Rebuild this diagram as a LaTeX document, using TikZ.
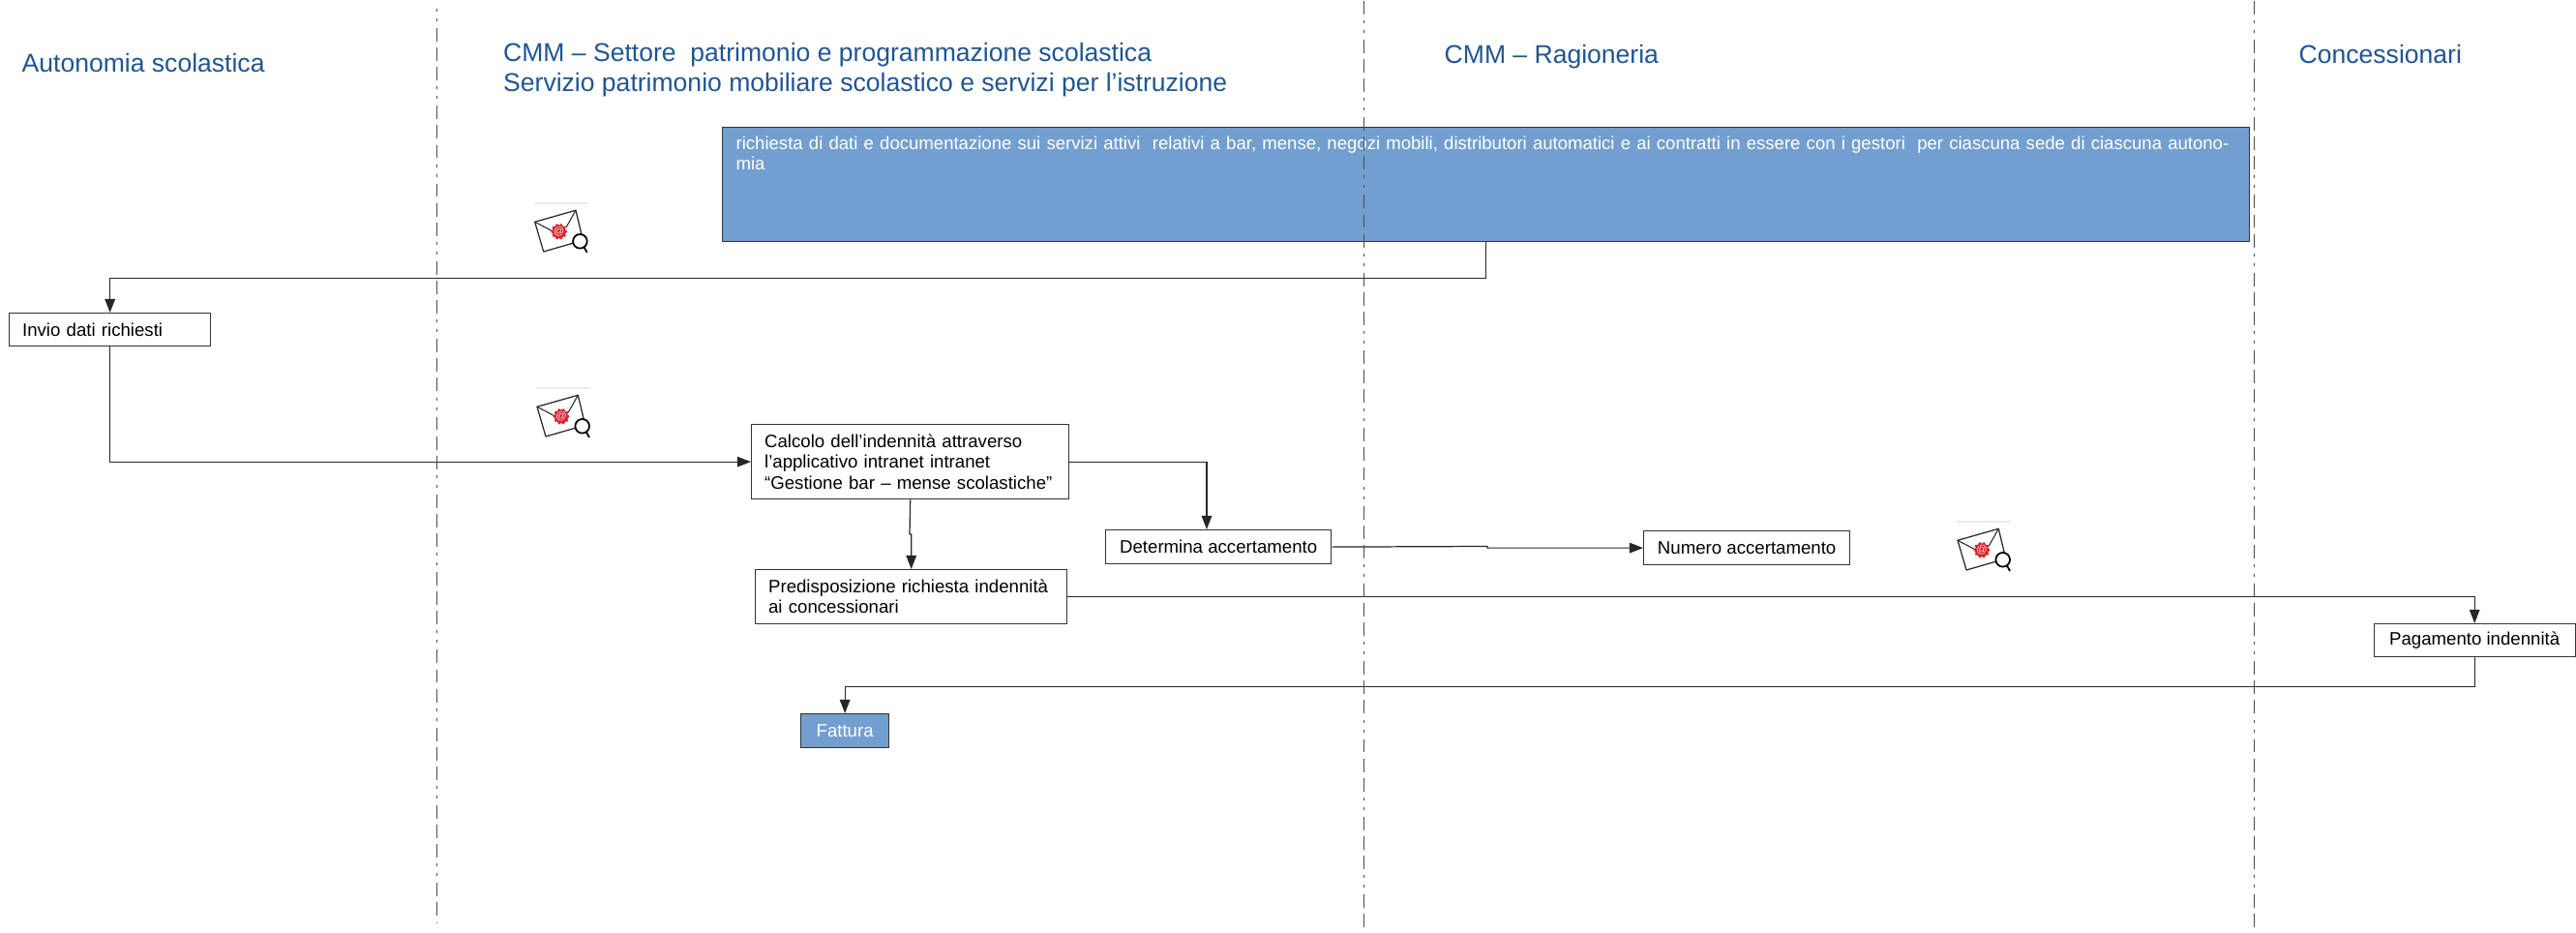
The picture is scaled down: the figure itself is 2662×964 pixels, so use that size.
\documentclass[tikz,border=0pt]{standalone}
\usepackage{fontspec}
\setmainfont{Liberation Sans}
\usetikzlibrary{arrows.meta}

\definecolor{titleblue}{HTML}{1F5592}
\definecolor{boxblue}{HTML}{729FCF}
\definecolor{sealred}{HTML}{D9232B}

\tikzset{
  lanetitle/.style={inner sep=0pt, text=titleblue, font=\fontsize{7.55}{8.6}\selectfont, align=left},
  stepbox/.style={anchor=north west, draw=black!80, line width=0.35pt, fill=white, inner sep=0pt, font=\fontsize{5.3}{6}\selectfont},
  leftbox/.style={stepbox, align=left, inner xsep=0.135cm},
  bluebox/.style={fill=boxblue, text=white},
  flow/.style={draw=black!85, line width=0.35pt, -{Triangle[length=4pt,width=3pt]}},
  laneline/.style={draw=black!70, line width=0.37pt, dash pattern=on 0.85pt off 1.99pt on 0.85pt off 1.99pt on 3.955pt off 1.764pt on 3.955pt off 1.764pt on 3.955pt off 1.764pt},
  mailicon/.pic={
    \draw[black!8, line width=0.4pt] (0,0) -- (55.7,0);
    \draw[black!85, line width=0.35pt, line join=round] (1,19.3) -- (43.3,7.3) -- (50.7,38.3) -- (10,50) -- cycle;
    \draw[black!85, line width=0.3pt] (1,19.3) -- (20,29.3) (43.3,7.3) -- (33.3,25);
    \fill[sealred, variable=\t, domain=0:360, samples=73] plot ({26+(7.6+0.8*cos(10*\t))*cos(\t)}, {29.3+(7.6+0.8*cos(10*\t))*sin(\t)}) -- cycle;
    \node[text=white!85!sealred, font=\fontsize{3.2}{3.2}\selectfont, inner sep=0pt] at (26,29.3) {@};
    \draw[black, line width=0.5pt, fill=white] (47.7,39.3) circle (7.3);
    \draw[black, line width=0.5pt] (51.7,45) -- (55,51);
  }
}

\begin{document}
\begin{tikzpicture}[x=0.01cm, y=-0.01cm]
    \useasboundingbox (0,0) rectangle (2662,964);

    % lane titles
    \node[lanetitle, anchor=base west] (autonomia) at (22,75) {Autonomia scolastica};
    \node[lanetitle, anchor=north west] (settore) at (519.5,44) {CMM – Settore\ \ patrimonio e programmazione scolastica\\Servizio patrimonio mobiliare scolastico e servizi per l’istruzione};
    \node[lanetitle, anchor=base west] (ragioneria) at (1492,65.7) {CMM – Ragioneria};
    \node[lanetitle, anchor=base west] (concessionari) at (2375,65.7) {Concessionari};

    % steps
    \node[stepbox, bluebox, align=left, inner xsep=0.14cm, text width=15.49cm, text height=0.23cm, text depth=0.95cm, font=\fontsize{5.28}{6}\selectfont] (richiesta) at (746,131) {richiesta di dati e documentazione sui servizi attivi\ \ relativi a bar, mense, negozi mobili, distributori automatici e ai contratti in essere con i gestori\ \ per ciascuna sede di ciascuna autonomia};
    \node[leftbox, text width=1.81cm, minimum height=0.34cm] (invio) at (9,323) {Invio dati richiesti};
    \node[leftbox, text width=3.01cm, minimum height=0.77cm] (calcolo) at (776,438) {Calcolo dell’indennità attraverso\\l’applicativo intranet intranet\\“Gestione bar – mense scolastiche”};
    \node[leftbox, text width=2.95cm, minimum height=0.56cm] (predisp) at (780,588) {Predisposizione richiesta indennità\\ai concessionari};
    \node[stepbox, minimum width=2.33cm, minimum height=0.35cm] (determina) at (1142,547) {Determina accertamento};
    \node[stepbox, minimum width=2.13cm, minimum height=0.35cm] (numero) at (1698,548) {Numero accertamento};
    \node[stepbox, minimum width=2.08cm, minimum height=0.34cm] (pagamento) at (2452.5,644) {Pagamento indennità};
    \node[stepbox, bluebox, minimum width=0.91cm, minimum height=0.35cm] (fattura) at (827,737) {Fattura};

    % connectors
    \coordinate (deterin) at (1247,547);
    \coordinate (calcjog) at (940,552);
    \coordinate (detjog) at (1537,564.5);
    \draw[flow] (richiesta.south) -- ++(0,37) -| (invio.north);
    \draw[flow] (invio.south) |- (calcolo.west);
    \draw[flow] (calcolo.east) -| (deterin);
    \draw[flow] (calcolo.south) -- (calcjog) -| (predisp.north);
    \draw[flow] (determina.east) -- (detjog) -- (detjog |- numero.west) -- (numero.west);
    \draw[flow] (predisp.east) -| (pagamento.north);
    \draw[flow] (pagamento.south) -- ++(0,30) -| (fattura.north);

    % lanes
    \foreach \lanex/\ystart/\yend in {451.5/9/953,1409.5/-59.5/964,2329.5/-59.5/964} {
      \draw[laneline] (\lanex,\ystart) -- (\lanex,\yend);
    }

    % mail icons
    \pic at (551.7,210) {mailicon};
    \pic at (554,401) {mailicon};
    \pic at (2022,539) {mailicon};
\end{tikzpicture}
\end{document}
